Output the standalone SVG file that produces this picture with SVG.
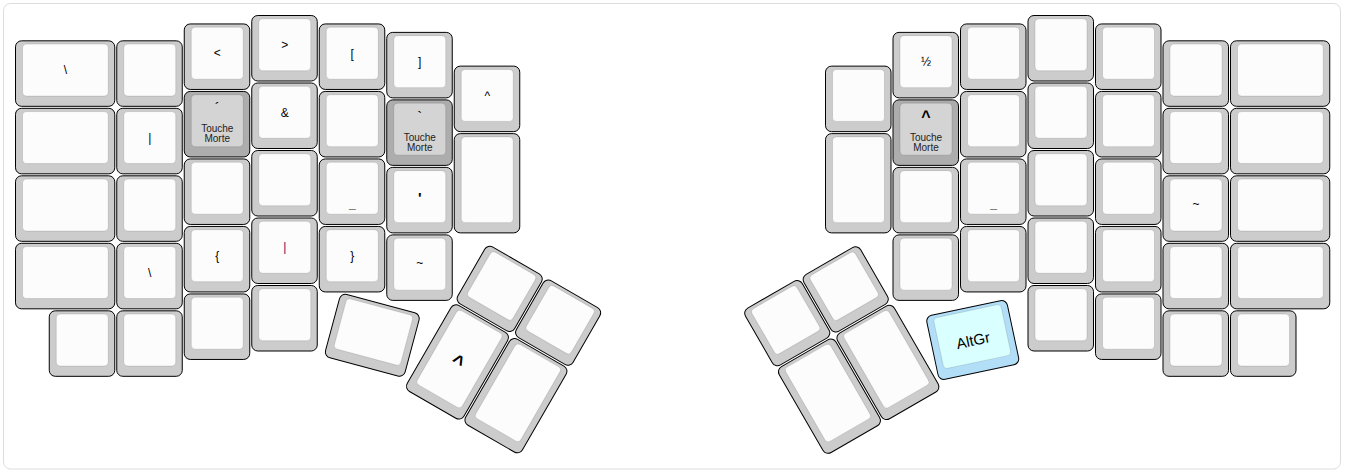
<svg xmlns="http://www.w3.org/2000/svg" xmlns:xlink="http://www.w3.org/1999/xlink" width="1345" height="474" viewBox="0 0 1345 474">
<style>
.o{fill:#cccccc;stroke:#000;stroke-width:1}
.i{fill:#fcfcfc;stroke:#000;stroke-opacity:0.12;stroke-width:1}
.od{fill:#adadad;stroke:#000;stroke-width:1}
.id{fill:#d4d4d4;stroke:#000;stroke-opacity:0.12;stroke-width:1}
.oa{fill:#b3def7;stroke:#000;stroke-width:1}
.ia{fill:#daffff;stroke:#000;stroke-opacity:0.12;stroke-width:1}
text{font-family:"Liberation Sans",Arial,sans-serif;text-anchor:middle;fill:#000}
.l{font-size:12px}
.m{font-size:15px}
.b{font-size:16px}
.t{font-size:20px}
.s{font-size:10px;fill:#222}
.ag{font-size:15px}
.pu{fill:#5c105c}
</style>
<defs>
<g id="k1"><rect class="o" x="0.5" y="0.5" width="65.5" height="65.5" rx="6"/><rect class="i" x="7.5" y="3.75" width="52" height="52" rx="4"/></g>
<g id="kw"><rect class="o" x="0.5" y="0.5" width="99.25" height="65.5" rx="6"/><rect class="i" x="7.5" y="3.75" width="85.75" height="52" rx="4"/></g>
<g id="kh"><rect class="o" x="0.5" y="0.5" width="65.5" height="99.25" rx="6"/><rect class="i" x="7.5" y="3.75" width="52" height="85.75" rx="4"/></g>
<g id="k125"><rect class="o" x="0.5" y="0.5" width="82.375" height="65.5" rx="6"/><rect class="i" x="7.5" y="3.75" width="68.875" height="52" rx="4"/></g>
<g id="kd"><rect class="od" x="0.5" y="0.5" width="65.5" height="65.5" rx="6"/><rect class="id" x="7.5" y="3.75" width="52" height="52" rx="4"/></g>
<g id="ka"><rect class="oa" x="0.5" y="0.5" width="82.375" height="65.5" rx="6"/><rect class="ia" x="7.5" y="3.75" width="68.875" height="52" rx="4"/></g>
</defs>
<rect x="3.5" y="3.5" width="1337" height="465.5" rx="7" fill="#fff" stroke="#dddddd" stroke-width="1"/>

<!-- LEFT HALF -->
<g id="L-c1r0" transform="translate(15,40.3125)"><use xlink:href="#kw"/><text class="l" x="50.4" y="34">\</text></g>
<g id="L-c1r1" transform="translate(15,107.8125)"><use xlink:href="#kw"/></g>
<g id="L-c1r2" transform="translate(15,175.3125)"><use xlink:href="#kw"/></g>
<g id="L-c1r3" transform="translate(15,242.8125)"><use xlink:href="#kw"/></g>
<g id="L-c1r4" transform="translate(48.75,310.3125)"><use xlink:href="#k1"/></g>

<g id="L-c2r0" transform="translate(116.25,40.3125)"><use xlink:href="#k1"/></g>
<g id="L-c2r1" transform="translate(116.25,107.8125)"><use xlink:href="#k1"/><text class="l" x="33.5" y="34">|</text></g>
<g id="L-c2r2" transform="translate(116.25,175.3125)"><use xlink:href="#k1"/></g>
<g id="L-c2r3" transform="translate(116.25,242.8125)"><use xlink:href="#k1"/><text class="l" x="33.5" y="34">\</text></g>
<g id="L-c2r4" transform="translate(116.25,310.3125)"><use xlink:href="#k1"/></g>

<g id="L-c3r0" transform="translate(183.75,23.4375)"><use xlink:href="#k1"/><text class="l" x="33.5" y="34">&lt;</text></g>
<g id="L-c3r1" transform="translate(183.75,90.9375)"><use xlink:href="#kd"/><text class="m" x="33.5" y="22">´</text><text class="s" x="33.5" y="41.5">Touche</text><text class="s" x="33.5" y="51.5">Morte</text></g>
<g id="L-c3r2" transform="translate(183.75,158.4375)"><use xlink:href="#k1"/></g>
<g id="L-c3r3" transform="translate(183.75,225.9375)"><use xlink:href="#k1"/><text class="l" x="33.5" y="34">{</text></g>
<g id="L-c3r4" transform="translate(183.75,293.4375)"><use xlink:href="#k1"/></g>

<g id="L-c4r0" transform="translate(251.25,15)"><use xlink:href="#k1"/><text class="l" x="33.5" y="34">&gt;</text></g>
<g id="L-c4r1" transform="translate(251.25,82.5)"><use xlink:href="#k1"/><text class="l" x="33.5" y="34.5">&amp;</text></g>
<g id="L-c4r2" transform="translate(251.25,150)"><use xlink:href="#k1"/></g>
<g id="L-c4r3" transform="translate(251.25,217.5)"><use xlink:href="#k1"/><text class="l pu" x="33.5" y="33.5">|</text></g>
<g id="L-c4r4" transform="translate(251.25,285)"><use xlink:href="#k1"/></g>

<g id="L-c5r0" transform="translate(318.75,23.4375)"><use xlink:href="#k1"/><text class="l" x="33.5" y="34.5">[</text></g>
<g id="L-c5r1" transform="translate(318.75,90.9375)"><use xlink:href="#k1"/></g>
<g id="L-c5r2" transform="translate(318.75,158.4375)"><use xlink:href="#k1"/><text class="l" x="33.5" y="48.5" fill-opacity="0.6">_</text></g>
<g id="L-c5r3" transform="translate(318.75,225.9375)"><use xlink:href="#k1"/><text class="l" x="33.5" y="34">}</text></g>

<g id="L-c6r0" transform="translate(386.25,31.875)"><use xlink:href="#k1"/><text class="l" x="33.5" y="34.5">]</text></g>
<g id="L-c6r1" transform="translate(386.25,99.375)"><use xlink:href="#kd"/><text class="m" x="33.5" y="23">`</text><text class="s" x="33.5" y="41.5">Touche</text><text class="s" x="33.5" y="51.5">Morte</text></g>
<g id="L-c6r2" transform="translate(386.25,166.875)"><use xlink:href="#k1"/><text class="m" x="33.5" y="36" font-weight="bold">'</text></g>
<g id="L-c6r3" transform="translate(386.25,234.375)"><use xlink:href="#k1"/><text class="l" x="33.5" y="33">~</text></g>

<g id="L-c7r0" transform="translate(453.75,65.625)"><use xlink:href="#k1"/><text class="l" x="33.5" y="34">^</text></g>
<g id="L-c7r1" transform="translate(453.75,133.125)"><use xlink:href="#kh"/></g>

<g id="L-tilt" transform="translate(372.3,335.3) rotate(15)"><g transform="translate(-41.69,-33.25)"><use xlink:href="#k125"/></g></g>

<g id="L-thumb" transform="rotate(30 453.75 301.875)">
<g id="L-t1" transform="translate(453.75,234.375)"><use xlink:href="#k1"/></g>
<g id="L-t2" transform="translate(521.25,234.375)"><use xlink:href="#k1"/></g>
<g id="L-t3" transform="translate(453.75,301.875)"><use xlink:href="#kh"/><text class="t" x="33.5" y="57" font-weight="bold">^</text></g>
<g id="L-t4" transform="translate(521.25,301.875)"><use xlink:href="#kh"/></g>
</g>

<!-- RIGHT HALF -->
<g id="R-c1r0" transform="translate(825,65.625)"><use xlink:href="#k1"/></g>
<g id="R-c1r1" transform="translate(825,133.125)"><use xlink:href="#kh"/></g>

<g id="R-c2r0" transform="translate(892.5,31.875)"><use xlink:href="#k1"/><text class="l" x="33.5" y="34">½</text></g>
<g id="R-c2r1" transform="translate(892.5,99.375)"><use xlink:href="#kd"/><text class="b" x="33.5" y="23" font-weight="bold">^</text><text class="s" x="33.5" y="41.5">Touche</text><text class="s" x="33.5" y="51.5">Morte</text></g>
<g id="R-c2r2" transform="translate(892.5,166.875)"><use xlink:href="#k1"/></g>
<g id="R-c2r3" transform="translate(892.5,234.375)"><use xlink:href="#k1"/></g>

<g id="R-c3r0" transform="translate(960,23.4375)"><use xlink:href="#k1"/></g>
<g id="R-c3r1" transform="translate(960,90.9375)"><use xlink:href="#k1"/></g>
<g id="R-c3r2" transform="translate(960,158.4375)"><use xlink:href="#k1"/><text class="l" x="33.5" y="48.5" fill-opacity="0.6">_</text></g>
<g id="R-c3r3" transform="translate(960,225.9375)"><use xlink:href="#k1"/></g>

<g id="R-c4r0" transform="translate(1027.5,15)"><use xlink:href="#k1"/></g>
<g id="R-c4r1" transform="translate(1027.5,82.5)"><use xlink:href="#k1"/></g>
<g id="R-c4r2" transform="translate(1027.5,150)"><use xlink:href="#k1"/></g>
<g id="R-c4r3" transform="translate(1027.5,217.5)"><use xlink:href="#k1"/></g>
<g id="R-c4r4" transform="translate(1027.5,285)"><use xlink:href="#k1"/></g>

<g id="R-c5r0" transform="translate(1095,23.4375)"><use xlink:href="#k1"/></g>
<g id="R-c5r1" transform="translate(1095,90.9375)"><use xlink:href="#k1"/></g>
<g id="R-c5r2" transform="translate(1095,158.4375)"><use xlink:href="#k1"/></g>
<g id="R-c5r3" transform="translate(1095,225.9375)"><use xlink:href="#k1"/></g>
<g id="R-c5r4" transform="translate(1095,293.4375)"><use xlink:href="#k1"/></g>

<g id="R-c6r0" transform="translate(1162.5,40.3125)"><use xlink:href="#k1"/></g>
<g id="R-c6r1" transform="translate(1162.5,107.8125)"><use xlink:href="#k1"/></g>
<g id="R-c6r2" transform="translate(1162.5,175.3125)"><use xlink:href="#k1"/><text class="l" x="33.5" y="33">~</text></g>
<g id="R-c6r3" transform="translate(1162.5,242.8125)"><use xlink:href="#k1"/></g>
<g id="R-c6r4" transform="translate(1162.5,310.3125)"><use xlink:href="#k1"/></g>

<g id="R-c7r0" transform="translate(1230,40.3125)"><use xlink:href="#kw"/></g>
<g id="R-c7r1" transform="translate(1230,107.8125)"><use xlink:href="#kw"/></g>
<g id="R-c7r2" transform="translate(1230,175.3125)"><use xlink:href="#kw"/></g>
<g id="R-c7r3" transform="translate(1230,242.8125)"><use xlink:href="#kw"/></g>
<g id="R-c7r4" transform="translate(1230,310.3125)"><use xlink:href="#k1"/></g>

<g id="R-altgr" transform="translate(972.75,340) rotate(-12)"><g transform="translate(-41.69,-33.25)"><use xlink:href="#ka"/><text class="ag" x="41.9" y="39">AltGr</text></g></g>

<g id="R-thumb" transform="rotate(-30 892.5 301.875)">
<g id="R-t1" transform="translate(757.5,234.375)"><use xlink:href="#k1"/></g>
<g id="R-t2" transform="translate(825,234.375)"><use xlink:href="#k1"/></g>
<g id="R-t3" transform="translate(757.5,301.875)"><use xlink:href="#kh"/></g>
<g id="R-t4" transform="translate(825,301.875)"><use xlink:href="#kh"/></g>
</g>
<g id="connectors"/>
</svg>
